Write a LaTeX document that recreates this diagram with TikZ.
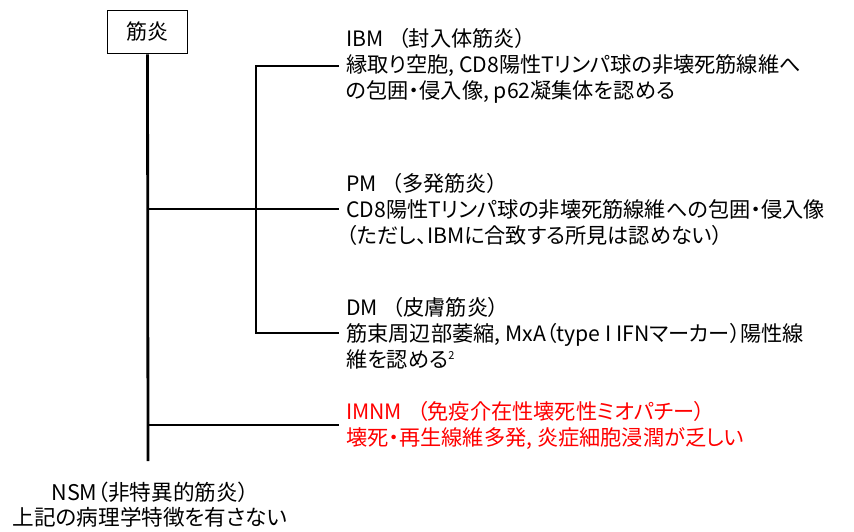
\documentclass[tikz,border=0pt]{standalone}
\usepackage{fontspec}
\setmainfont{Noto Sans CJK JP}[RawFeature={+palt}]
\begin{document}
\begin{tikzpicture}[x=1pt,y=-1pt,
  conn/.style={line width=2.8pt, line join=miter},
  desc/.style={anchor=west, align=left, inner xsep=7pt, inner ysep=0pt, font=\fontsize{21.2}{26}\selectfont},
  rootbox/.style={draw, line width=1.5pt, minimum width=80pt, minimum height=43pt, inner sep=0pt, font=\fontsize{21}{24}\selectfont}]
\useasboundingbox (0,0) rectangle (854,531);
\node[rootbox] (root) at (147.5,32) {筋炎};
\node[desc] (ibm) at (339,66) {IBM\hspace{0.7em}（封入体筋炎）\\縁取り空胞, CD8陽性Tリンパ球の非壊死筋線維へ\\の包囲・侵入像, p62凝集体を認める};
\node[desc] (pm) at (339,209) {PM\hspace{0.7em}（多発筋炎）\\CD8陽性Tリンパ球の非壊死筋線維への包囲・侵入像\\（ただし、IBMに合致する所見は認めない）};
\node[desc] (dm) at (339,333) {DM\hspace{0.7em}（皮膚筋炎）\\筋束周辺部萎縮, MxA（type I IFNマーカー）陽性線\\維を認める\textsuperscript{\fontsize{11}{11}\selectfont 2}};
\node[desc, text=red] (imnm) at (339,425) {IMNM\hspace{0.7em}（免疫介在性壊死性ミオパチー）\\壊死・再生線維多発, 炎症細胞浸潤が乏しい};
\node[align=center, inner sep=0pt, font=\fontsize{21.6}{25}\selectfont] (nsm) at (150,505) {NSM（非特異的筋炎）\\上記の病理学特徴を有さない};
\coordinate (bus) at (256,0);
\coordinate (trunkend) at (148,461);
\draw[conn] (root.south) -- (trunkend);
\draw[conn] (root.south |- pm.west) -- (pm.west);
\draw[conn] (root.south |- imnm.west) -- (imnm.west);
\draw[conn] (ibm.west) -- (bus |- ibm.west) -- (bus |- dm.west) -- (dm.west);
\end{tikzpicture}
\end{document}
